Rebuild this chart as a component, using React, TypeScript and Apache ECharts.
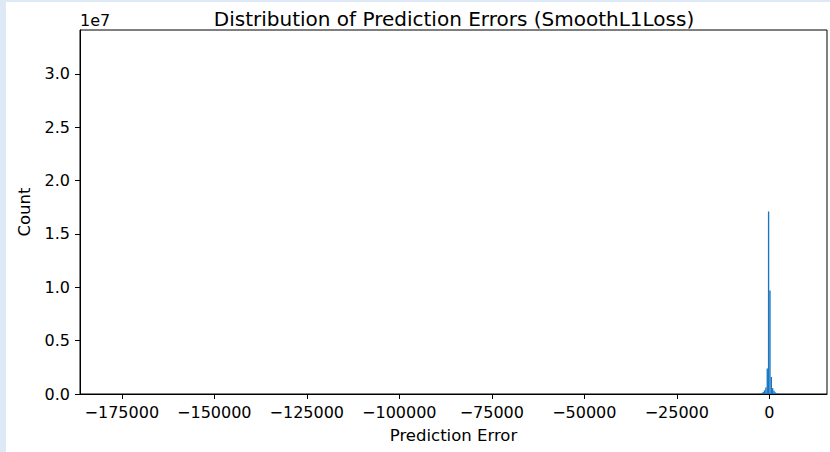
import React, { useEffect, useRef } from "react";
import * as echarts from "echarts";

// Histogram bins (left edge, in prediction-error units) and counts
const binWidth = 370;
const binStart = [
  -177100, -90000, -3300, -2930, -2560, -2200, -1830, -1470, -1100, -730, -370,
  0, 370, 730, 1100, 1470, 1830, 2200, 2560, 6000,
];
const counts = [
  3, 5, 10000, 20000, 40000, 80000, 180000, 350000, 600000, 2400000, 17100000,
  9700000, 1600000, 550000, 300000, 150000, 70000, 30000, 15000, 2,
];

const xTicks = [-175000, -150000, -125000, -100000, -75000, -50000, -25000, 0];
const yTicks = [0, 5e6, 1e7, 1.5e7, 2e7, 2.5e7, 3e7];
const xRange = [-186300, 15600];
const yRange = [0, 3.41e7];

const titleText = "Distribution of Prediction Errors (SmoothL1Loss)";
const xName = "Prediction Error";
const yName = "Count";
const yExponent = "1e7";

const FONT = "DejaVu Sans";
const BAR = "#1a76c0";

export default function App() {
  const ref = useRef<HTMLDivElement>(null);
  useEffect(() => {
    if (!ref.current) return;
    const chart = echarts.init(ref.current, undefined, { renderer: "svg" });
    const data = counts.map((c, i) => [binStart[i], binStart[i] + binWidth, c]);
    chart.setOption({
      animation: false,
      backgroundColor: "#ffffff",
      grid: {
        left: 74,
        top: 28,
        width: 747,
        height: 364,
        show: true,
        borderColor: "#000",
        borderWidth: 1,
        backgroundColor: "transparent",
      },
      xAxis: {
        type: "value",
        min: xRange[0],
        max: xRange[1],
        splitLine: { show: false },
        axisLine: { show: true, onZero: false, lineStyle: { color: "#000", width: 1 } },
        axisTick: { show: true, customValues: xTicks, length: 5, lineStyle: { color: "#000" } },
        axisLabel: {
          customValues: xTicks,
          margin: 10,
          fontSize: 16,
          fontFamily: FONT,
          color: "#000",
          formatter: (v: number) => (v < 0 ? "\u2212" + Math.abs(v) : String(v)),
        },
        name: xName,
        nameLocation: "middle",
        nameGap: 33,
        nameTextStyle: { fontSize: 16.5, fontFamily: FONT, color: "#000" },
      },
      yAxis: {
        type: "value",
        min: yRange[0],
        max: yRange[1],
        splitLine: { show: false },
        axisLine: { show: true, onZero: false, lineStyle: { color: "#000", width: 1 } },
        axisTick: { show: true, customValues: yTicks, length: 5, lineStyle: { color: "#000" } },
        axisLabel: {
          customValues: yTicks,
          margin: 10,
          fontSize: 16,
          fontFamily: FONT,
          color: "#000",
          formatter: (v: number) => (v / 1e7).toFixed(1),
        },
        name: yName,
        nameLocation: "middle",
        nameGap: 47,
        nameTextStyle: { fontSize: 16.5, fontFamily: FONT, color: "#000" },
      },
      graphic: [
        {
          type: "text",
          x: 448,
          y: 17,
          style: {
            text: titleText,
            fontSize: 20,
            fontFamily: FONT,
            fill: "#000",
            align: "center",
            verticalAlign: "middle",
          },
        },
        {
          type: "text",
          x: 74,
          y: 18,
          style: {
            text: yExponent,
            fontSize: 16,
            fontFamily: FONT,
            fill: "#000",
            align: "left",
            verticalAlign: "middle",
          },
        },
      ],
      series: [
        {
          type: "custom",
          clip: true,
          encode: { x: [0, 1], y: 2 },
          data,
          renderItem: (params: any, api: any) => {
            const p0 = api.coord([api.value(0), api.value(2)]);
            const p1 = api.coord([api.value(1), 0]);
            return {
              type: "rect",
              shape: { x: p0[0], y: p0[1], width: p1[0] - p0[0], height: p1[1] - p0[1] },
              style: { fill: BAR },
            };
          },
        },
      ],
    });
    return () => chart.dispose();
  }, []);
  return (
    <div
      style={{
        position: "fixed",
        left: 0,
        top: 0,
        width: 830,
        height: 452,
        background: "#dde9f6",
      }}
    >
      <div
        ref={ref}
        style={{ position: "absolute", left: 6, top: 2, width: 824, height: 450, background: "#fff" }}
      />
    </div>
  );
}
